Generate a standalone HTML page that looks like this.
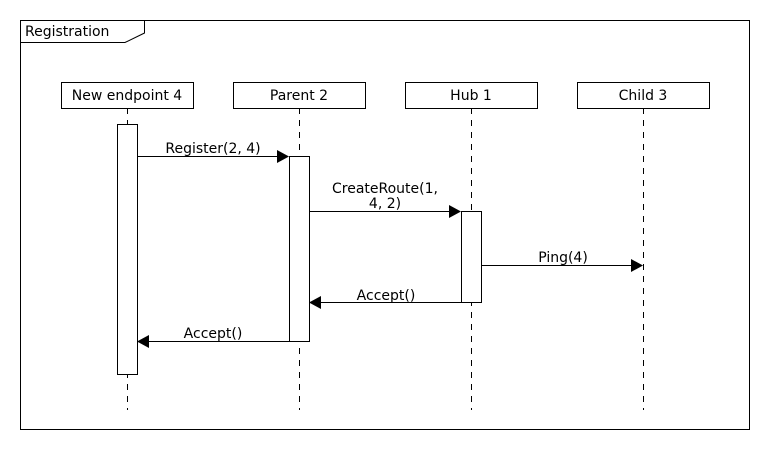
<!DOCTYPE html>
<html><head><style>body{margin:0;background:#fff}</style></head><body>
<svg width="770" height="450" xmlns="http://www.w3.org/2000/svg" font-family="DejaVu Sans, sans-serif" font-size="14" fill="#000">
<rect x="0" y="0" width="770" height="450" fill="#fff"/>
<rect x="20.5" y="20.5" width="729" height="409" fill="none" stroke="#000"/>
<path d="M20.5 42.5 H125 L144.5 33 V20.5" fill="none" stroke="#000"/>
<text x="25" y="36">Registration</text>
<g stroke="#000" stroke-dasharray="6,6" fill="none">
<line x1="127.5" y1="108" x2="127.5" y2="410"/>
<line x1="299.5" y1="108" x2="299.5" y2="410"/>
<line x1="471.5" y1="108" x2="471.5" y2="410"/>
<line x1="643.5" y1="108" x2="643.5" y2="410"/>
</g>
<g fill="#fff" stroke="#000">
<rect x="61.5" y="82.5" width="132" height="26"/>
<rect x="233.5" y="82.5" width="132" height="26"/>
<rect x="405.5" y="82.5" width="132" height="26"/>
<rect x="577.5" y="82.5" width="132" height="26"/>
<rect x="117.5" y="124.5" width="20" height="250"/>
<rect x="289.5" y="156.5" width="20" height="185"/>
<rect x="461.5" y="211.5" width="20" height="91"/>
</g>
<g text-anchor="middle">
<text x="127" y="100">New endpoint 4</text>
<text x="299" y="100">Parent 2</text>
<text x="471" y="100">Hub 1</text>
<text x="643" y="100">Child 3</text>
<text x="213" y="153">Register(2, 4)</text>
<text x="385" y="193">CreateRoute(1,</text>
<text x="385" y="208">4, 2)</text>
<text x="563" y="262">Ping(4)</text>
<text x="386" y="300">Accept()</text>
<text x="213" y="338">Accept()</text>
</g>
<g stroke="#000">
<line x1="137" y1="156.5" x2="279" y2="156.5"/>
<line x1="309" y1="211.5" x2="451" y2="211.5"/>
<line x1="481" y1="265.5" x2="632" y2="265.5"/>
<line x1="461" y1="302.5" x2="320" y2="302.5"/>
<line x1="289" y1="341.5" x2="148" y2="341.5"/>
</g>
<polygon points="289,156.5 277,150 277,163"/>
<polygon points="461,211.5 449,205 449,218"/>
<polygon points="643,265.5 631,259 631,272"/>
<polygon points="309,302.5 321,296 321,309"/>
<polygon points="137,341.5 149,335 149,348"/>
</svg>
</body></html>
